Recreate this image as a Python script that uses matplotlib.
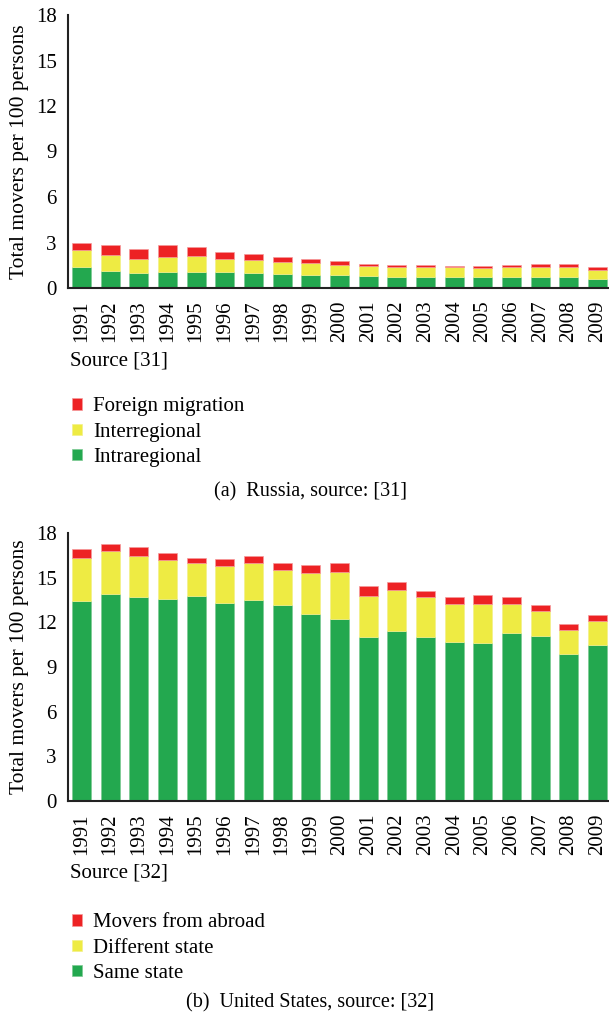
import numpy as np
import matplotlib
matplotlib.use('Agg')
import matplotlib.pyplot as plt

plt.rcParams['font.family'] = ['Liberation Serif', 'DejaVu Serif']

years = [str(y) for y in range(1991, 2010)]

# Russia (a)
intraregional = [1.36, 1.14, 0.99, 1.03, 1.07, 1.03, 0.99, 0.92, 0.88, 0.86,
                 0.79, 0.75, 0.75, 0.75, 0.72, 0.72, 0.75, 0.72, 0.61]
interregional = [1.12, 1.05, 0.94, 1.01, 1.01, 0.90, 0.83, 0.81, 0.79, 0.68,
                 0.68, 0.63, 0.63, 0.61, 0.60, 0.64, 0.65, 0.64, 0.57]
foreign = [0.48, 0.64, 0.64, 0.79, 0.62, 0.44, 0.42, 0.33, 0.26, 0.26,
           0.13, 0.11, 0.11, 0.11, 0.15, 0.13, 0.20, 0.20, 0.22]

# United States (b)
same_state = [13.42, 13.87, 13.69, 13.55, 13.80, 13.28, 13.53, 13.15, 12.55, 12.24,
              11.04, 11.39, 10.99, 10.65, 10.58, 11.26, 11.06, 9.87, 10.45]
different_state = [2.92, 2.89, 2.76, 2.66, 2.21, 2.48, 2.43, 2.37, 2.77, 3.12,
                   2.76, 2.76, 2.70, 2.57, 2.62, 1.98, 1.69, 1.61, 1.61]
from_abroad = [0.58, 0.50, 0.58, 0.47, 0.33, 0.51, 0.52, 0.47, 0.53, 0.65,
               0.62, 0.59, 0.44, 0.45, 0.65, 0.47, 0.43, 0.40, 0.40]

RED = '#ED2224'
YELLOW = '#EEEB43'
GREEN = '#23A84F'
FS = 15

fig = plt.figure(figsize=(6.09, 10.22), dpi=100)


def stacked(ax, low, mid, high, labels, source, caption, leg_y, src_y, cap_y):
    x = np.arange(len(years))
    low = np.array(low)
    mid = np.array(mid)
    high = np.array(high)
    b1 = ax.bar(x, low, 0.66, color=GREEN, edgecolor='#7cc992', linewidth=0.5)
    b2 = ax.bar(x, mid, 0.66, bottom=low, color=YELLOW, edgecolor='#f3f08a', linewidth=0.5)
    b3 = ax.bar(x, high, 0.66, bottom=low + mid, color=RED, edgecolor='#f59a9b', linewidth=0.5)
    ax.set_xlim(-0.47, 18.4)
    ax.set_ylim(0, 18)
    ax.set_yticks(range(0, 19, 3))
    ax.set_xticks(x)
    ax.set_xticklabels(years, rotation=90, fontsize=FS)
    ax.tick_params(axis='y', labelsize=FS, length=0, pad=8)
    ax.tick_params(axis='x', length=0, pad=9)
    for s in ['top', 'right']:
        ax.spines[s].set_visible(False)
    for s in ['left', 'bottom']:
        ax.spines[s].set_linewidth(1.5)
        ax.spines[s].set_color('#222222')
    ax.set_ylabel('Total movers per 100 persons', fontsize=15.5, labelpad=5)
    fig.text(70 / 609, 1 - src_y / 1022, source, fontsize=FS, va='center', ha='left')
    fig.legend([b3, b2, b1], labels, loc='upper left',
               bbox_to_anchor=(64 / 609, 1 - leg_y / 1022), frameon=False,
               fontsize=FS, handlelength=0.45, handleheight=0.45, handletextpad=0.55,
               labelspacing=0.3, borderaxespad=0)
    fig.text(310 / 609, 1 - cap_y / 1022, caption, fontsize=14.5, ha='center', va='center')


ax1 = fig.add_axes([68 / 609, 1 - 288 / 1022, 1 - 68 / 609, (288 - 15) / 1022])
stacked(ax1, intraregional, interregional, foreign,
        ['Foreign migration', 'Interregional', 'Intraregional'],
        'Source [31]', '(a)  Russia, source: [31]', 389, 361, 492)

ax2 = fig.add_axes([68 / 609, 1 - 801 / 1022, 1 - 68 / 609, (801 - 533) / 1022])
stacked(ax2, same_state, different_state, from_abroad,
        ['Movers from abroad', 'Different state', 'Same state'],
        'Source [32]', '(b)  United States, source: [32]', 905, 873, 1003)

fig.savefig('out.png', dpi=100)
